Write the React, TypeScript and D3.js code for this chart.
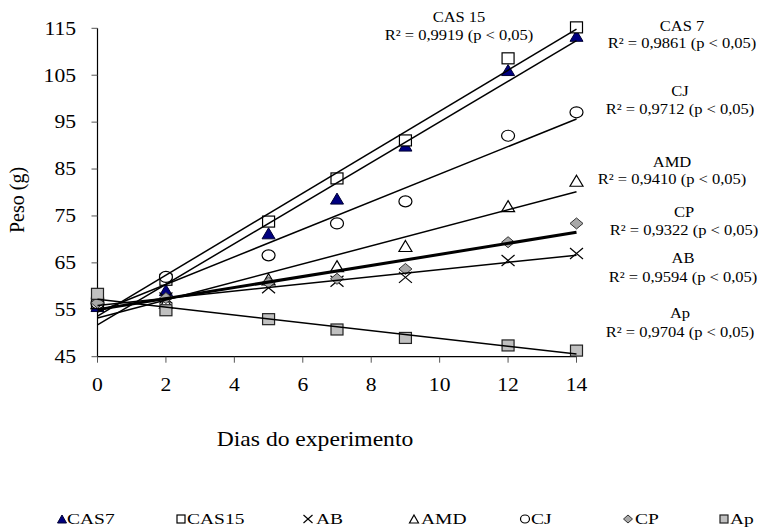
import React from "react";
import * as d3 from "d3";

const days = [0, 2, 5, 7, 9, 12, 14];
const seriesNames = ["CAS7", "CAS15", "AB", "AMD", "CJ", "CP", "Ap"];
const cas7 = [55.8, 59.2, 71.3, 78.7, 90.0, 106.1, 113.4];
const cas15 = [56.5, 61.4, 73.8, 83.0, 91.1, 108.6, 115.2];
const ab = [56.3, 57.5, 59.7, 61.1, 61.9, 65.5, 67.0];
const amd = [56.4, 56.5, 61.5, 64.3, 68.6, 77.1, 82.5];
const cj = [56.4, 62.0, 66.6, 73.4, 78.1, 92.1, 97.1];
const cp = [56.5, 57.5, 60.8, 61.6, 63.7, 69.4, 73.4];
const ap = [58.4, 54.9, 53.0, 50.8, 49.0, 47.4, 46.3];
const yTicks = [45, 55, 65, 75, 85, 95, 105, 115];
const xTicks = [0, 2, 4, 6, 8, 10, 12, 14];
const annotTitles = ["CAS 15", "CAS 7", "CJ", "AMD", "CP", "AB", "Ap"];
const annotR2 = ["0,9919", "0,9861", "0,9712", "0,9410", "0,9322", "0,9594", "0,9704"];

const FONT = "Liberation Serif, Times New Roman, DejaVu Serif, serif";

const x = d3.scaleLinear().domain([0, 14]).range([97.5, 576.5]);
const y = d3.scaleLinear().domain([45, 115]).range([356.7, 28.3]);

function fit(ys: number[]) {
  const mx = d3.mean(days)!;
  const my = d3.mean(ys)!;
  let sxy = 0, sxx = 0;
  days.forEach((d, i) => { sxy += (d - mx) * (ys[i] - my); sxx += (d - mx) ** 2; });
  const b = sxy / sxx;
  const a = my - b * mx;
  return (t: number) => a + b * t;
}

type Shape = "tri" | "sq" | "x" | "otri" | "circ" | "dia" | "gsq";

function Marker({ cx, cy, shape, w = 13, h = 11 }: { cx: number; cy: number; shape: Shape; w?: number; h?: number }) {
  const hw = w / 2, hh = h / 2;
  switch (shape) {
    case "tri":
      return <path d={`M${cx},${cy - hh}L${cx + hw},${cy + hh}L${cx - hw},${cy + hh}Z`} fill="#000080" stroke="#000033" strokeWidth={1} />;
    case "otri":
      return <path d={`M${cx},${cy - hh}L${cx + hw},${cy + hh}L${cx - hw},${cy + hh}Z`} fill="#fff" stroke="#000" strokeWidth={1.2} />;
    case "sq":
      return <rect x={cx - hw + 0.5} y={cy - hh} width={w - 1} height={h} fill="#fff" stroke="#000" strokeWidth={1.2} />;
    case "gsq":
      return <rect x={cx - hw + 0.5} y={cy - hh} width={w - 1} height={h} fill="#c0c0c0" stroke="#222" strokeWidth={1.2} />;
    case "circ":
      return <ellipse cx={cx} cy={cy} rx={hw} ry={hh} fill="#fff" stroke="#000" strokeWidth={1.2} />;
    case "dia":
      return <path d={`M${cx},${cy - hh}L${cx + hw},${cy}L${cx},${cy + hh}L${cx - hw},${cy}Z`} fill="#a8a8a8" stroke="#333" strokeWidth={1} />;
    case "x":
      return (
        <g stroke="#000" strokeWidth={1.2}>
          <line x1={cx - hw} y1={cy - hh} x2={cx + hw} y2={cy + hh} />
          <line x1={cx - hw} y1={cy + hh} x2={cx + hw} y2={cy - hh} />
        </g>
      );
  }
  return null;
}

function T({ x: tx, y: ty, sx = 1.18, size = 14, anchor = "middle", children }: any) {
  return (
    <text transform={`translate(${tx},${ty}) scale(${sx},1)`} textAnchor={anchor} fill="#000"
      style={{ fontFamily: FONT, fontSize: size + "px" }}>
      {children}
    </text>
  );
}

export default function App() {
  const series: { name: string; vals: number[]; shape: Shape; lw: number }[] = [
    { name: seriesNames[0], vals: cas7, shape: "tri", lw: 1.5 },
    { name: seriesNames[1], vals: cas15, shape: "sq", lw: 1.5 },
    { name: seriesNames[2], vals: ab, shape: "x", lw: 1.5 },
    { name: seriesNames[3], vals: amd, shape: "otri", lw: 1.5 },
    { name: seriesNames[4], vals: cj, shape: "circ", lw: 1.5 },
    { name: seriesNames[5], vals: cp, shape: "dia", lw: 3 },
    { name: seriesNames[6], vals: ap, shape: "gsq", lw: 1.5 },
  ];

  const annotPos = [
    [459, 22, 40],
    [682, 31, 48],
    [680, 96, 114],
    [672, 167, 184],
    [684, 217, 235],
    [683, 263, 282],
    [680, 318, 337],
  ];

  const legendPos = [
    [62, 67], [181, 187], [308, 316], [414, 421], [525, 531], [628, 635], [724, 730],
  ];

  return (
    <svg width={765} height={531} style={{ position: "absolute", left: 0, top: 0, background: "#fff" }}>
      {/* axes */}
      <line x1={x(0)} y1={y(115)} x2={x(0)} y2={y(45)} stroke="#000" strokeWidth={1.2} />
      <line x1={x(0)} y1={y(45)} x2={x(14)} y2={y(45)} stroke="#000" strokeWidth={1.2} />
      {yTicks.map((t) => (
        <g key={"y" + t}>
          <line x1={x(0) - 6} x2={x(0)} y1={y(t)} y2={y(t)} stroke="#555" />
          <T x={76} y={y(t) + 6.3} size={18} sx={1.2} anchor="end">{t}</T>
        </g>
      ))}
      {xTicks.map((t) => (
        <g key={"x" + t}>
          <line x1={x(t)} x2={x(t)} y1={y(45)} y2={y(45) + 6} stroke="#555" />
          <T x={x(t)} y={390.5} size={18} sx={1.2}>{t}</T>
        </g>
      ))}
      <T x={315} y={446} size={20} sx={1.18}>Dias do experimento</T>
      <text transform="translate(24,200) rotate(-90)" textAnchor="middle" style={{ fontFamily: FONT, fontSize: "20px" }}>Peso (g)</text>

      {/* markers */}
      {series.map((s) => (
        <g key={"m" + s.name}>
          {s.vals.map((v, i) => (
            <Marker key={i} cx={x(days[i])} cy={y(v)} shape={s.shape} />
          ))}
        </g>
      ))}
      {/* trendlines */}
      {series.map((s) => {
        const f = fit(s.vals);
        const pts = [0, 14];
        return (
          <path key={"l" + s.name} d={d3.line<number>().x((t) => x(t)).y((t) => y(f(t)))(pts)!} fill="none" stroke="#000" strokeWidth={s.lw} />
        );
      })}

      {/* annotations */}
      {annotTitles.map((t, i) => (
        <g key={"a" + i}>
          <T x={annotPos[i][0]} y={annotPos[i][1]}>{t}</T>
          <T x={annotPos[i][0]} y={annotPos[i][2]}>{`R² = ${annotR2[i]} (p < 0,05)`}</T>
        </g>
      ))}

      {/* legend */}
      {series.map((s, i) => (
        <g key={"lg" + s.name}>
          <Marker cx={legendPos[i][0]} cy={519} shape={s.shape} w={9} h={8} />
          <T x={legendPos[i][1]} y={524} size={15} sx={1.3} anchor="start">{s.name}</T>
        </g>
      ))}
    </svg>
  );
}
